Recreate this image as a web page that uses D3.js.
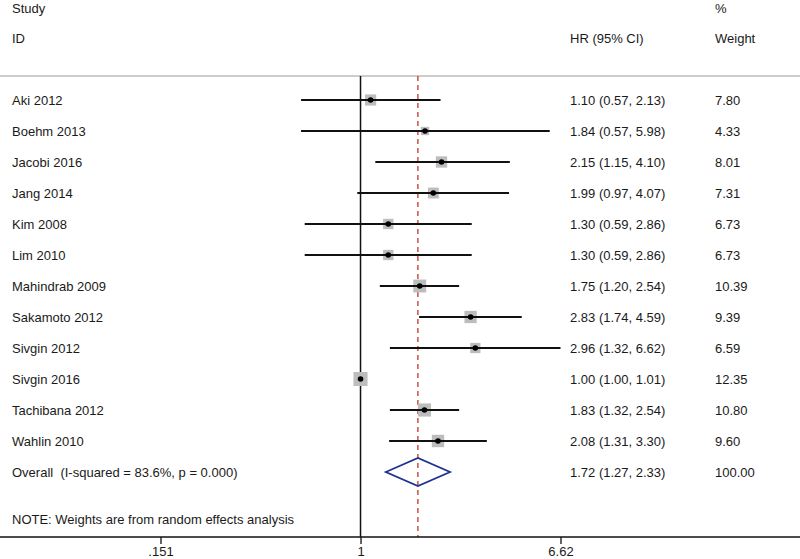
<!DOCTYPE html>
<html><head><meta charset="utf-8">
<script src="https://cdn.jsdelivr.net/npm/d3@7"></script>
<style>body{margin:0;background:#fff}svg{display:block;font-family:"Liberation Sans",Arial,sans-serif}text{white-space:pre}</style>
</head><body><svg id="c" width="800" height="559"></svg>
<script>
const studies = ["Aki 2012","Boehm 2013","Jacobi 2016","Jang 2014","Kim 2008","Lim 2010","Mahindrab 2009","Sakamoto 2012","Sivgin 2012","Sivgin 2016","Tachibana 2012","Wahlin 2010"];
const hr    = [1.10,1.84,2.15,1.99,1.30,1.30,1.75,2.83,2.96,1.00,1.83,2.08];
const lower = [0.57,0.57,1.15,0.97,0.59,0.59,1.20,1.74,1.32,1.00,1.32,1.31];
const upper = [2.13,5.98,4.10,4.07,2.86,2.86,2.54,4.59,6.62,1.01,2.54,3.30];
const weights = [7.80,4.33,8.01,7.31,6.73,6.73,10.39,9.39,6.59,12.35,10.80,9.60];
const overall = {label:"Overall  (I-squared = 83.6%, p = 0.000)", hr:1.72, lower:1.27, upper:2.33, weight:100.00};
const tickValues = [0.151, 1, 6.62];
const tickLabels = [".151", "1", "6.62"];
const note = "NOTE: Weights are from random effects analysis";

const svg = d3.select("#c");
const W = 800;
const x = d3.scaleLog().domain([0.151, 6.62]).range([160.5, 560.5]);
const rows = studies.map((s,i)=>i).concat([studies.length]);
const y = d3.scalePoint().domain(rows).range([100, 472]);
const topY = 76, axisY = 537;
const fs = 13;
const fmt = d3.format(".2f");
const tc = "#1a1a1a";

// headers
const hdr = svg.append("g").attr("font-size", fs).attr("fill", tc);
hdr.append("text").attr("x", 12).attr("y", 13).text("Study");
hdr.append("text").attr("x", 12).attr("y", 43).text("ID");
hdr.append("text").attr("x", 570).attr("y", 43).text("HR (95% CI)");
hdr.append("text").attr("x", 715).attr("y", 13).text("%");
hdr.append("text").attr("x", 715).attr("y", 43).text("Weight");

// top rule
svg.append("line").attr("x1",0).attr("x2",W).attr("y1",topY).attr("y2",topY).attr("stroke","#9a9a9a").attr("stroke-width",1);

// null line
svg.append("line").attr("x1",x(1)).attr("x2",x(1)).attr("y1",topY).attr("y2",axisY).attr("stroke","#111").attr("stroke-width",1.5);
// overall dashed line
svg.append("line").attr("x1",x(overall.hr)).attr("x2",x(overall.hr)).attr("y1",topY).attr("y2",axisY)
  .attr("stroke","#c0392b").attr("stroke-width",1.3).attr("stroke-dasharray","5,4");

// study rows
const g = svg.append("g");
studies.forEach((s,i)=>{
  const yy = y(i);
  g.append("text").attr("x",12).attr("y",yy+4.5).attr("font-size",fs).attr("fill",tc).text(s);
  const side = 4*Math.sqrt(weights[i]);
  g.append("rect").attr("x",x(hr[i])-side/2).attr("y",yy-side/2).attr("width",side).attr("height",side).attr("fill","#bdbdbd");
  g.append("line").attr("x1",x(lower[i])).attr("x2",x(upper[i])).attr("y1",yy).attr("y2",yy).attr("stroke","#111").attr("stroke-width",2);
  g.append("circle").attr("cx",x(hr[i])).attr("cy",yy).attr("r",2.8).attr("fill","#000");
  g.append("text").attr("x",570).attr("y",yy+4.5).attr("font-size",fs).attr("fill",tc)
    .text(`${fmt(hr[i])} (${fmt(lower[i])}, ${fmt(upper[i])})`);
  g.append("text").attr("x",715).attr("y",yy+4.5).attr("font-size",fs).attr("fill",tc).text(fmt(weights[i]));
});

// overall
const oy = y(studies.length);
g.append("text").attr("x",12).attr("y",oy+4.5).attr("font-size",fs).attr("fill",tc).text(overall.label);
g.append("path").attr("d",`M${x(overall.lower)},${oy}L${x(overall.hr)},${oy-14}L${x(overall.upper)},${oy}L${x(overall.hr)},${oy+14}Z`)
  .attr("fill","none").attr("stroke","#1f3290").attr("stroke-width",1.8);
g.append("text").attr("x",570).attr("y",oy+4.5).attr("font-size",fs).attr("fill",tc)
  .text(`${fmt(overall.hr)} (${fmt(overall.lower)}, ${fmt(overall.upper)})`);
g.append("text").attr("x",715).attr("y",oy+4.5).attr("font-size",fs).attr("fill",tc).text(fmt(overall.weight));

// note
svg.append("text").attr("x",12).attr("y",524).attr("font-size",fs).attr("fill",tc).text(note);

// axis
svg.append("line").attr("x1",0).attr("x2",W).attr("y1",axisY).attr("y2",axisY).attr("stroke","#111").attr("stroke-width",1.3);
const ax = svg.append("g").attr("transform",`translate(0,${axisY})`)
  .call(d3.axisBottom(x).tickValues(tickValues).tickFormat((d,i)=>tickLabels[i]).tickSize(7).tickPadding(3));
ax.select(".domain").remove();
ax.selectAll(".tick line").attr("stroke","#111").attr("stroke-width",1.3);
ax.selectAll(".tick text").attr("font-size",fs).attr("fill",tc).attr("font-family","Liberation Sans, Arial, sans-serif");
</script></body></html>
